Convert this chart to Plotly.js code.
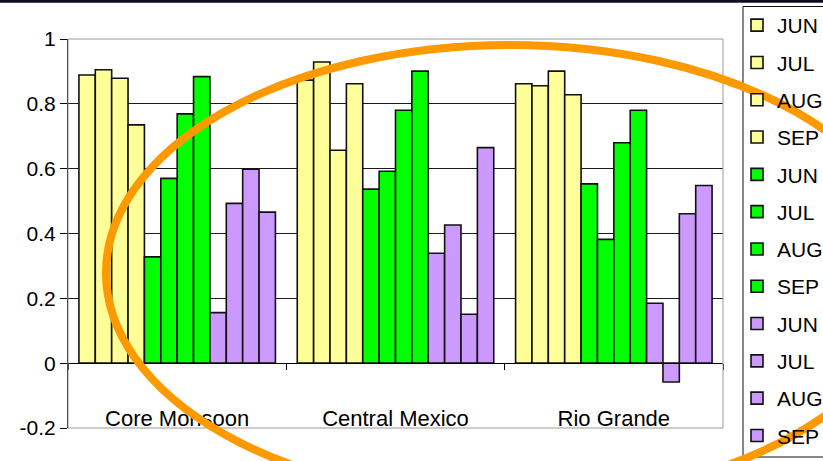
<!DOCTYPE html>
<html><head><meta charset="utf-8">
<script src="https://cdn.plot.ly/plotly-3.0.1.min.js"></script>
<style>html,body{margin:0;padding:0;background:#fff}#chart{width:823px;height:461px}</style>
</head><body><div id="chart"></div>
<script>
// Regions on the category axis
const regions = ['Core Monsoon', 'Central Mexico', 'Rio Grande'];
const months = ['JUN', 'JUL', 'AUG', 'SEP'];

// First block of monthly series (yellow)
const yellowJUN = [0.889, 0.873, 0.862];
const yellowJUL = [0.905, 0.929, 0.856];
const yellowAUG = [0.879, 0.657, 0.901];
const yellowSEP = [0.735, 0.862, 0.828];
// Second block (green)
const greenJUN = [0.328, 0.537, 0.553];
const greenJUL = [0.570, 0.592, 0.382];
const greenAUG = [0.769, 0.780, 0.680];
const greenSEP = [0.884, 0.901, 0.780];
// Third block (purple)
const purpleJUN = [0.156, 0.339, 0.185];
const purpleJUL = [0.493, 0.426, -0.058];
const purpleAUG = [0.598, 0.151, 0.461];
const purpleSEP = [0.466, 0.665, 0.548];

const yTickVals = [-0.2, 0, 0.2, 0.4, 0.6, 0.8, 1];
const yTickText = ['-0.2', '0', '0.2', '0.4', '0.6', '0.8', '1'];

const blocks = [
  {color: '#FFFF99', series: [yellowJUN, yellowJUL, yellowAUG, yellowSEP]},
  {color: '#00FF00', series: [greenJUN, greenJUL, greenAUG, greenSEP]},
  {color: '#CC99FF', series: [purpleJUN, purpleJUL, purpleAUG, purpleSEP]}
];

const FONT = 'Liberation Sans, Arial, sans-serif';
const traces = [];
blocks.forEach((b, bi) => {
  b.series.forEach((vals, mi) => {
    traces.push({
      type: 'bar',
      x: regions,
      y: vals,
      name: months[mi],
      legendgroup: 'g' + bi + '_' + mi,
      marker: {color: b.color, line: {color: '#111111', width: 1.6}},
      hoverinfo: 'x+y+name'
    });
  });
});

// plot-area edges in pixels (for paper-coordinate decorations)
const W = 823, H = 461, L = 68, R = 723, T = 39, B = 428;
const px = v => (v - L) / (R - L);
const py = v => (B - v) / (B - T);

const layout = {
  width: W, height: H,
  margin: {l: L, r: W - R, t: T, b: H - B, autoexpand: false},
  paper_bgcolor: '#ffffff',
  plot_bgcolor: '#ffffff',
  barmode: 'group',
  bargap: 0.1,
  bargroupgap: 0,
  showlegend: true,
  font: {family: FONT, color: '#000000', size: 21},
  xaxis: {
    type: 'category',
    range: [-0.5, 2.5],
    anchor: 'free',
    position: 1 / 6,
    showline: true, linecolor: '#000000', linewidth: 1,
    showgrid: false, zeroline: false,
    tickson: 'boundaries',
    ticks: 'outside', ticklen: 6, tickcolor: '#000000', tickwidth: 1,
    ticklabelstandoff: 35,
    tickfont: {family: FONT, size: 22, color: '#000000'},
    automargin: false, fixedrange: true
  },
  yaxis: {
    range: [-0.2, 1],
    tickmode: 'array', tickvals: yTickVals, ticktext: yTickText,
    showline: true, linecolor: '#000000', linewidth: 1,
    showgrid: true, gridcolor: '#1a1a1a', gridwidth: 1,
    zeroline: false,
    ticks: 'outside', ticklen: 7, tickcolor: '#000000',
    tickfont: {family: FONT, size: 21, color: '#000000'},
    automargin: false, fixedrange: true
  },
  legend: {
    x: px(737), xanchor: 'left',
    y: py(5), yanchor: 'top',
    maxheight: 460,
    bgcolor: 'rgba(0,0,0,0)',
    borderwidth: 0,
    traceorder: 'grouped',
    tracegroupgap: 7,
    font: {family: FONT, size: 21, color: '#000000'}
  },
  shapes: [
    // plot frame
    {type: 'rect', xref: 'paper', yref: 'paper', x0: 0, x1: 1, y0: 0, y1: 1,
     line: {color: '#9a9a9a', width: 1}, layer: 'above'},
    // legend frame
    {type: 'rect', xref: 'paper', yref: 'paper', x0: px(743), x1: px(835), y0: py(457), y1: py(6.5),
     line: {color: '#111111', width: 1}, layer: 'below'},
    // heavy rule along the top edge
    {type: 'line', xref: 'paper', yref: 'paper', x0: px(-5), x1: px(830), y0: py(1.3), y1: py(1.3),
     line: {color: '#0c0c1c', width: 3}},
    // orange highlight ellipse
    {type: 'circle', xref: 'paper', yref: 'paper', x0: px(106), x1: px(914), y0: py(501), y1: py(45),
     line: {color: '#FF9900', width: 8}, layer: 'above'}
  ]
};

Plotly.newPlot('chart', traces, layout, {displayModeBar: false, staticPlot: true});
</script>
</body></html>
